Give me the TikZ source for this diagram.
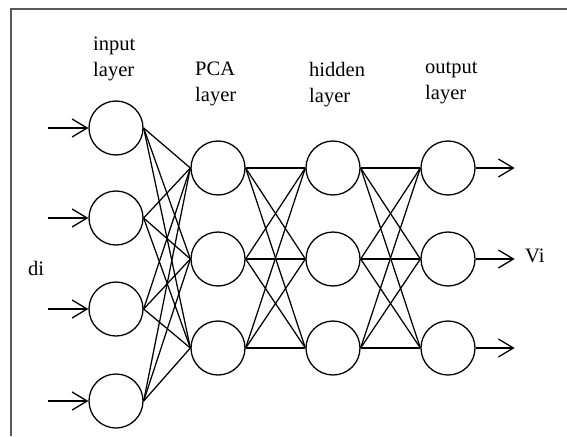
\documentclass[tikz,border=0pt]{standalone}
\usepackage{fontspec}
\setmainfont{Liberation Serif}
\usetikzlibrary{arrows.meta}
\begin{document}
\begin{tikzpicture}[x=1pt,y=-1pt,
  neuron/.style={circle,draw,line width=1.3pt,minimum size=54pt,inner sep=0pt},
  link/.style={line width=1.25pt},
  io/.style={line width=1.3pt,-{Straight Barb[length=15pt,width=18pt,line width=1.3pt]}},
  lbl/.style={font=\fontsize{20.5}{26}\selectfont,align=left,anchor=north west,inner sep=0pt},
  frame/.style={line width=2pt,draw=black!65}]
\useasboundingbox (0,0) rectangle (567,436);
\draw[frame] (11,436) -- (11,9) -- (567,9);
% input layer
\foreach \i/\y in {1/128,2/218,3/309,4/401} \node[neuron] (in\i) at (116,\y) {};
% PCA layer
\foreach \i/\y in {1/168,2/259,3/348} \node[neuron] (p\i) at (218,\y) {};
% hidden layer
\foreach \i/\y in {1/168,2/259,3/348} \node[neuron] (h\i) at (333,\y) {};
% output layer
\foreach \i/\y in {1/168,2/259,3/348} \node[neuron] (o\i) at (448,\y) {};
% connections
\foreach \a in {1,...,4} \foreach \b in {1,2,3} \draw[link] (in\a.east) -- (p\b.west);
\foreach \a in {1,2,3} \foreach \b in {1,2,3} \draw[link] (p\a.east) -- (h\b.west);
\foreach \a in {1,2,3} \foreach \b in {1,2,3} \draw[link] (h\a.east) -- (o\b.west);
% input arrows
\foreach \i in {1,...,4} {
  \coordinate (s\i) at ([xshift=-40pt]in\i.west);
  \draw[io] (s\i) -- (in\i.west);
}
% output arrows
\foreach \i in {1,2,3} {
  \coordinate (e\i) at ([xshift=39pt]o\i.east);
  \draw[io] (o\i.east) -- (e\i);
}
% labels
\node[lbl] (lin) at (93,37) {input\\layer};
\node[lbl] (lpca) at (195,62) {PCA\\layer};
\node[lbl] (lhid) at (309,62) {hidden\\layer};
\node[lbl] (lout) at (425,62) {output\\layer};
\node[font=\fontsize{20.5}{24}\selectfont,anchor=west,inner sep=0pt] (di) at (28,268) {di};
\node[font=\fontsize{20.5}{24}\selectfont,anchor=west,inner sep=0pt] (vi) at (525,256) {Vi};
\end{tikzpicture}
\end{document}
